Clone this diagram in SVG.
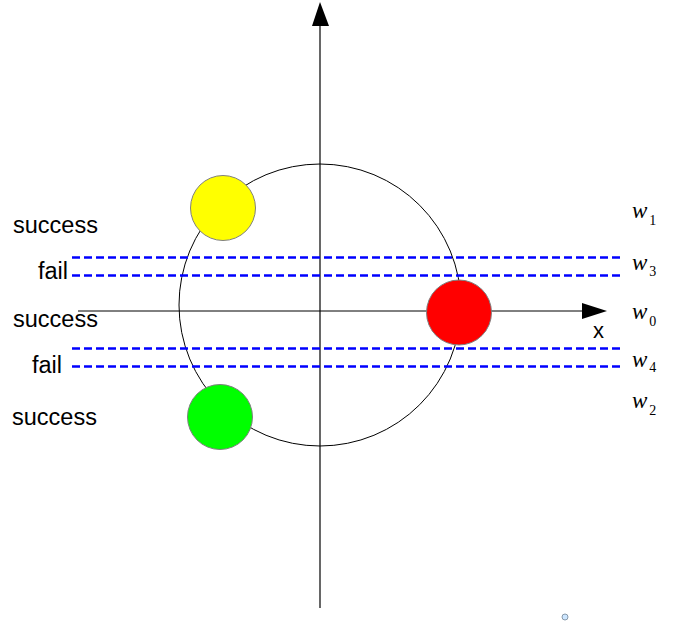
<svg xmlns="http://www.w3.org/2000/svg" width="680" height="621" viewBox="0 0 680 621">
<style>
.lbl{font-family:"Liberation Sans",Arial,sans-serif;font-size:23.5px;fill:#000}
.w{font-family:"Liberation Serif","Times New Roman",serif;font-style:italic;font-size:23px;fill:#000}
.sub{font-family:"Liberation Serif","Times New Roman",serif;font-style:normal;font-size:14px;fill:#000}
.dash{stroke:#0000ff;stroke-width:2.6;stroke-dasharray:8 4;fill:none}
.ball{stroke:#808080;stroke-width:1}
</style>
<rect width="680" height="621" fill="#fff"/>
<g id="orbit"><circle cx="320" cy="305" r="141" fill="none" stroke="#000" stroke-width="1"/></g>
<g id="connectors">
<line x1="78" y1="311" x2="584" y2="311" stroke="#000" stroke-width="1"/>
<polygon points="607,311 582,303 582,319" fill="#000"/>
<line x1="320" y1="608" x2="320" y2="24" stroke="#000" stroke-width="1.2"/>
<polygon points="320,2 312,26 329,26" fill="#000"/>
<line class="dash" x1="72" y1="257.5" x2="620" y2="257.5"/>
<line class="dash" x1="72" y1="275.5" x2="620" y2="275.5"/>
<line class="dash" x1="72" y1="348.5" x2="620" y2="348.5"/>
<line class="dash" x1="72" y1="366.5" x2="620" y2="366.5"/>
</g>
<g id="yellow"><circle class="ball" cx="223" cy="208" r="32.5" fill="#ffff00"/></g>
<g id="red"><circle class="ball" cx="459" cy="312.5" r="32.5" fill="#ff0000"/></g>
<g id="green"><circle class="ball" cx="220" cy="417" r="32.5" fill="#00ff00"/></g>
<g id="labels-left">
<text class="lbl" x="13" y="233">success</text>
<text class="lbl" x="38" y="279">fail</text>
<text class="lbl" x="13" y="327">success</text>
<text class="lbl" x="32" y="373">fail</text>
<text class="lbl" x="12" y="425">success</text>
</g>
<g id="labels-right">
<text class="w" x="632" y="218">w<tspan class="sub" dx="2" dy="7">1</tspan></text>
<text class="w" x="632" y="270">w<tspan class="sub" dx="2" dy="6">3</tspan></text>
<text class="w" x="632" y="319">w<tspan class="sub" dx="2" dy="7">0</tspan></text>
<text class="w" x="632" y="367">w<tspan class="sub" dx="2" dy="5">4</tspan></text>
<text class="w" x="632" y="408">w<tspan class="sub" dx="2" dy="7">2</tspan></text>
<text class="lbl" x="593" y="338" style="font-size:22px">x</text>
</g>
<g id="dot"><circle cx="565" cy="617" r="3" fill="#cce6ff" stroke="#8899aa" stroke-width="1"/></g>
</svg>
